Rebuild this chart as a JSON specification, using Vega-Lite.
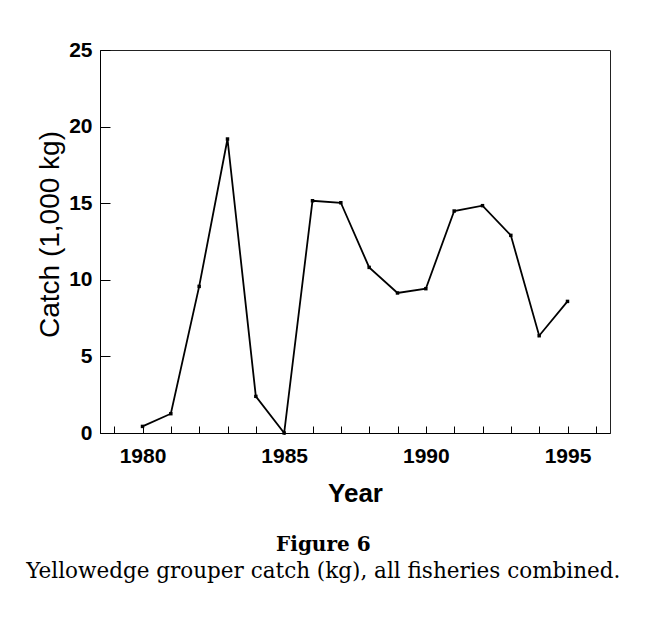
{
  "$schema": "https://vega.github.io/schema/vega-lite/v6.json",
  "width": 510,
  "height": 383,
  "autosize": {"type": "none"},
  "padding": {"left": 100, "top": 50, "right": 42, "bottom": 186},
  "background": "white",
  "data": {
    "values": [
      {"year": 1980, "catch": 0.43},
      {"year": 1981, "catch": 1.26},
      {"year": 1982, "catch": 9.57},
      {"year": 1983, "catch": 19.19},
      {"year": 1984, "catch": 2.39},
      {"year": 1985, "catch": 0.0},
      {"year": 1986, "catch": 15.16},
      {"year": 1987, "catch": 15.03},
      {"year": 1988, "catch": 10.81},
      {"year": 1989, "catch": 9.14},
      {"year": 1990, "catch": 9.42},
      {"year": 1991, "catch": 14.49},
      {"year": 1992, "catch": 14.84},
      {"year": 1993, "catch": 12.9},
      {"year": 1994, "catch": 6.35},
      {"year": 1995, "catch": 8.59}
    ]
  },
  "title": {
    "text": "Figure 6",
    "subtitle": "Yellowedge grouper catch (kg), all fisheries combined.",
    "orient": "bottom",
    "anchor": "middle",
    "frame": "bounds",
    "offset": 29,
    "font": "DejaVu Serif",
    "fontSize": 20,
    "fontWeight": "bold",
    "color": "black",
    "subtitleFont": "DejaVu Serif",
    "subtitleFontSize": 21.5,
    "subtitleFontWeight": "normal",
    "subtitleColor": "black",
    "subtitlePadding": 6
  },
  "encoding": {
    "x": {
      "field": "year",
      "type": "quantitative",
      "scale": {"domain": [1978.5, 1996.5], "nice": false, "zero": false},
      "axis": {
        "values": [1979, 1980, 1981, 1982, 1983, 1984, 1985, 1986, 1987, 1988, 1989, 1990, 1991, 1992, 1993, 1994, 1995, 1996],
        "labelExpr": "datum.value % 5 == 0 ? datum.value : ''",
        "tickSize": -7,
        "labelPadding": 19,
        "title": "Year",
        "titleFontSize": 26,
        "titleFontWeight": "bold",
        "titlePadding": 14,
        "labelFlush": false,
        "labelOverlap": false
      }
    },
    "y": {
      "field": "catch",
      "type": "quantitative",
      "scale": {"domain": [0, 25], "nice": false},
      "axis": {
        "values": [0, 5, 10, 15, 20, 25],
        "tickSize": -10,
        "labelPadding": 18,
        "title": "Catch (1,000 kg)",
        "titleFontSize": 28,
        "titleFontWeight": "normal",
        "titlePadding": 4,
        "titleY": 184
      }
    }
  },
  "layer": [
    {"mark": {"type": "line", "color": "black", "strokeWidth": 1.8}},
    {"mark": {"type": "point", "shape": "square", "filled": true, "color": "black", "size": 12, "opacity": 1}}
  ],
  "config": {
    "view": {"stroke": "#222", "strokeWidth": 1},
    "axis": {
      "grid": false,
      "domainColor": "black",
      "domainWidth": 1,
      "tickColor": "black",
      "tickWidth": 1,
      "labelFont": "Liberation Sans",
      "labelFontSize": 21,
      "labelFontWeight": "bold",
      "labelColor": "black",
      "titleFont": "Liberation Sans",
      "titleColor": "black"
    }
  }
}
